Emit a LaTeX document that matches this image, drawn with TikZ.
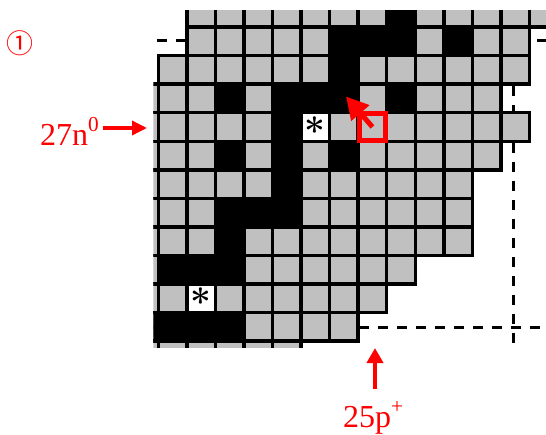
\documentclass[tikz,border=0pt]{standalone}
\usepackage{fontspec}
\newfontfamily\labelfont{Liberation Serif}
\newfontfamily\circfont{Noto Sans CJK SC}
\usetikzlibrary{arrows.meta}

\definecolor{cellgray}{HTML}{C0C0C0}
\definecolor{markred}{HTML}{FF0000}

\newcommand{\pitch}{28.55}
\newcommand{\xo}{158.3}
\newcommand{\yo}{-1.5}

\begin{document}
\begin{tikzpicture}[
  x=1pt, y=-1pt,
  graycell/.style={fill=cellgray, draw=black, line width=3.4pt},
  blackcell/.style={fill=black, draw=black, line width=3.4pt},
  starcell/.style={fill=white, draw=black, line width=3.4pt},
  magic/.style={draw=black, line width=2.6pt, dash pattern=on 10pt off 9pt},
  redarr/.style={draw=markred, fill=markred, line width=3.5pt, -{Triangle[length=15pt,width=14pt]}},
  lbl/.style={text=markred, inner sep=0pt, font=\labelfont\fontsize{32}{32}\selectfont}
]
\useasboundingbox (0,0) rectangle (546,434);

\begin{scope}
  \clip (153.3,10) rectangle (546,347);
  % magic-number lines behind the chart
  \draw[magic] (157,40.5) -- (546,40.5);
  \draw[magic] (150,327.3) -- (546,327.3);
  \draw[magic] (513.3,10) -- (513.3,343);
  % gray cells, one row at a time (row/first/last column)
  \foreach \r/\a/\b in {0/1/13, 1/1/12, 2/0/12, 3/-1/11, 4/-1/12, 5/-1/11, 6/-1/10,
                        7/-1/10, 8/-1/10, 9/-1/8, 10/-1/7, 11/-1/6, 12/-1/4}
    \foreach \c in {\a,...,\b}
      \draw[graycell] (\c*\pitch+\xo, \r*\pitch+\yo) rectangle ++(\pitch,\pitch);
  % black cells (column/row)
  \foreach \c/\r in {8/0, 6/1, 7/1, 8/1, 10/1, 6/2, 2/3, 4/3, 5/3, 6/3, 8/3,
                     4/4, 2/5, 4/5, 6/5, 4/6, 2/7, 3/7, 4/7, 2/8,
                     0/9, 1/9, 2/9, -1/11, 0/11, 1/11, 2/11}
    \draw[blackcell] (\c*\pitch+\xo, \r*\pitch+\yo) rectangle ++(\pitch,\pitch);
  % white cells with asterisk
  \foreach \c/\r in {5/4, 1/10} {
    \draw[starcell] (\c*\pitch+\xo, \r*\pitch+\yo) rectangle ++(\pitch,\pitch);
    \node[anchor=base, inner sep=0pt, font=\bfseries\fontsize{37}{37}\selectfont] (star\r)
      at (\c*\pitch+\xo+0.5*\pitch, \r*\pitch+\yo+31.5) {*};
  }
\end{scope}

% marked nucleus
\node[draw=markred, line width=5pt, minimum size=26.6pt, inner sep=0pt] (pick)
  at (7.5*\pitch+\xo, 4.5*\pitch+\yo) {};
\coordinate (pickTo) at (346,96.5);
\draw[markred, line width=5pt, -{Triangle[length=22pt,width=23pt]}] (pick.center) -- (pickTo);

% labels
\node[text=markred, inner sep=0pt, font=\circfont\fontsize{27}{27}\selectfont] (phase1) at (19.5,43) {①};

\node[lbl, anchor=base west] (nlab) at (40,145)
  {27n\raisebox{13.3pt}{\fontsize{21.3}{21.3}\selectfont 0}};
\coordinate (nIn) at (147,128);
\draw[redarr, shorten <=3.5pt] (nlab.east |- nIn) -- (nIn);

\node[lbl, anchor=base west] (plab) at (343,427)
  {25p\raisebox{14pt}{\fontsize{21.3}{21.3}\selectfont +}};
\coordinate (pIn) at (375,348);
\draw[redarr, line width=4pt, -{Triangle[length=15pt,width=16pt]}, shorten <=12pt]
  (pIn |- plab.north) -- (pIn);
\end{tikzpicture}
\end{document}
